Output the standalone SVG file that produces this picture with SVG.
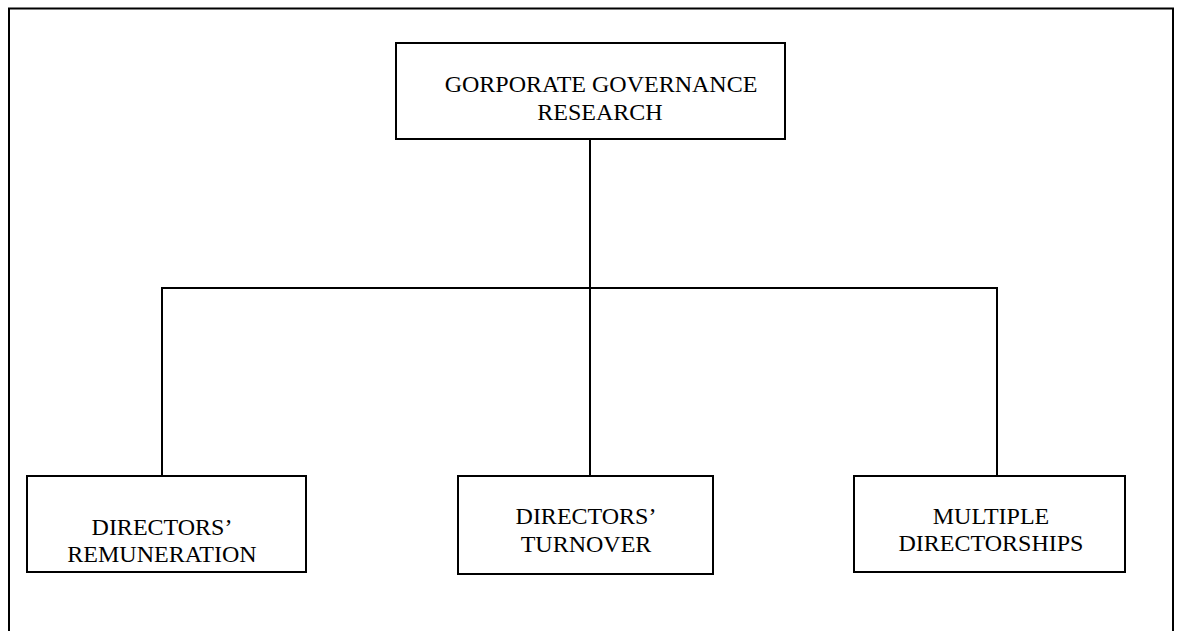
<svg xmlns="http://www.w3.org/2000/svg" width="1177" height="631" viewBox="0 0 1177 631">
  <style>
    .box { fill: #ffffff; stroke: #000000; stroke-width: 2; }
    .frame { fill: none; stroke: #000000; stroke-width: 2; }
    .wire { fill: none; stroke: #000000; stroke-width: 2; }
    .label { font-family: "Liberation Serif", "Times New Roman", serif; font-size: 24px; fill: #000000; text-anchor: middle; }
  </style>
  <rect width="1177" height="631" fill="#ffffff"/>

  <!-- outer page frame (bottom edge runs off the page) -->
  <path class="frame" d="M9 640 V8.5 H1173 V640"/>

  <!-- tree connectors -->
  <g id="connectors">
    <path class="wire" d="M590 139 V288"/>
    <path class="wire" d="M162 476 V288 H997 V476"/>
    <path class="wire" d="M590 288 V476"/>
  </g>

  <g id="root">
    <rect class="box" x="396" y="43" width="389" height="96"/>
    <text class="label" x="601" y="92">GORPORATE GOVERNANCE</text>
    <text class="label" x="600" y="120">RESEARCH</text>
  </g>

  <g id="remuneration">
    <rect class="box" x="27" y="476" width="279" height="96"/>
    <text class="label" x="162" y="535">DIRECTORS’</text>
    <text class="label" x="162" y="562">REMUNERATION</text>
  </g>

  <g id="turnover">
    <rect class="box" x="458" y="476" width="255" height="98"/>
    <text class="label" x="586" y="524">DIRECTORS’</text>
    <text class="label" x="586" y="552">TURNOVER</text>
  </g>

  <g id="directorships">
    <rect class="box" x="854" y="476" width="271" height="96"/>
    <text class="label" x="991" y="524">MULTIPLE</text>
    <text class="label" x="991" y="551">DIRECTORSHIPS</text>
  </g>
</svg>
